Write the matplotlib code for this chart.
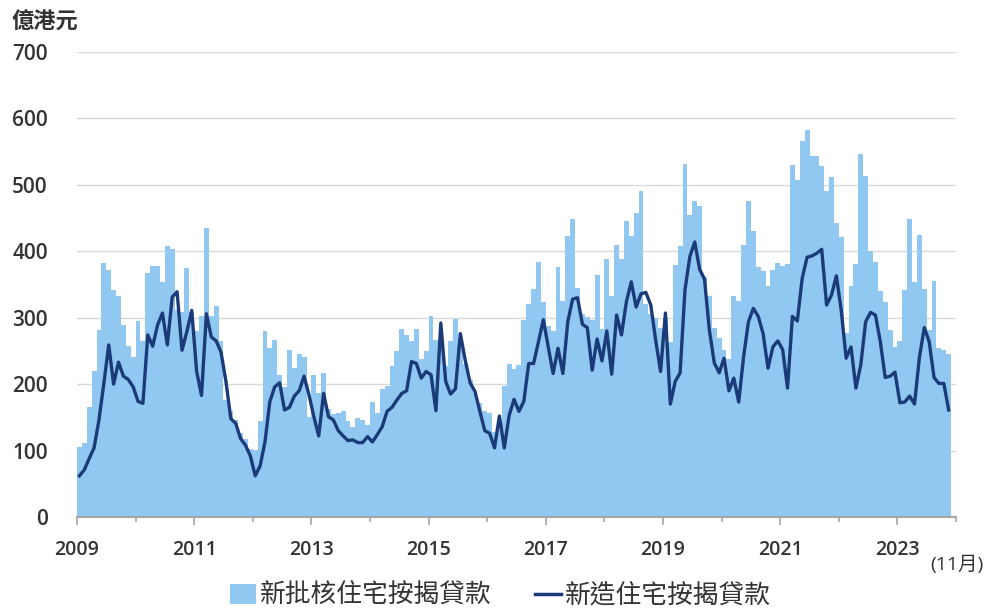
import matplotlib
matplotlib.use("Agg")
import matplotlib.pyplot as plt
from matplotlib.lines import Line2D
from matplotlib.patches import Patch
import numpy as np

COLORS = {
    "bar": "#90C8F2",
    "line": "#1B3A78",
    "text": "#333333",
    "axis": "#A6A6A6",
    "grid": "#D9D9D9",
}

plt.rcParams["font.family"] = ["Open Sans", "Noto Sans CJK TC", "DejaVu Sans"]

# monthly data, Jan 2009 - Nov 2023 (HK$ 100 million)
year_labels = ["2009", "2011", "2013", "2015", "2017", "2019", "2021", "2023"]
y_ticks = [0, 100, 200, 300, 400, 500, 600, 700]

approved_loans = [
    105, 112, 166, 219, 281, 383, 372, 342, 333, 289, 257, 241,
    295, 265, 368, 378, 378, 354, 408, 403, 312, 309, 375, 309,
    280, 303, 435, 302, 317, 265, 176, 159, 146, 126, 118, 103,
    101, 144, 280, 254, 266, 213, 195, 251, 225, 246, 241, 151,
    213, 186, 216, 163, 155, 157, 159, 145, 136, 149, 146, 138,
    173, 156, 192, 197, 227, 250, 283, 274, 265, 283, 238, 250,
    303, 267, 260, 227, 265, 298, 265, 231, 206, 186, 171, 160,
    157, 128, 146, 197, 230, 223, 229, 297, 321, 343, 384, 324,
    288, 280, 376, 325, 423, 449, 345, 306, 301, 296, 364, 283,
    389, 332, 409, 388, 446, 423, 457, 491, 321, 305, 300, 285,
    300, 264, 379, 408, 531, 454, 476, 468, 362, 333, 285, 270,
    251, 238, 333, 325, 409, 476, 430, 377, 370, 347, 372, 383,
    378, 381, 530, 507, 566, 583, 543, 543, 528, 490, 512, 442,
    422, 277, 347, 381, 546, 513, 400, 384, 340, 324, 282, 256,
    265, 342, 448, 353, 425, 343, 281, 355, 255, 251, 246,
]

drawn_loans = [
    62, 71, 88, 104, 146, 201, 259, 200, 233, 212, 207, 196,
    174, 171, 274, 257, 289, 307, 259, 331, 339, 251, 279, 311,
    219, 183, 306, 271, 265, 248, 204, 148, 141, 118, 108, 92,
    62, 77, 113, 174, 196, 202, 161, 165, 182, 190, 212, 184,
    151, 122, 186, 151, 146, 130, 122, 115, 116, 112, 112, 121,
    113, 124, 136, 159, 165, 176, 186, 190, 234, 231, 209, 219,
    214, 160, 292, 204, 185, 193, 276, 236, 202, 189, 159, 130,
    126, 104, 152, 104, 153, 177, 159, 174, 231, 231, 264, 297,
    256, 216, 254, 216, 294, 328, 330, 290, 285, 221, 268, 235,
    280, 215, 304, 274, 324, 354, 316, 336, 338, 319, 266, 219,
    307, 170, 204, 217, 342, 392, 414, 373, 358, 281, 232, 217,
    239, 190, 209, 173, 241, 294, 314, 302, 276, 224, 256, 265,
    252, 194, 302, 295, 359, 391, 393, 397, 403, 319, 334, 363,
    311, 239, 256, 194, 229, 294, 308, 304, 264, 210, 212, 218,
    172, 173, 182, 170, 240, 285, 264, 210, 201, 201, 161,
]

months = np.arange(len(approved_loans))

fig = plt.figure(figsize=(9.87, 6.10), dpi=100)
ax = fig.add_axes([0.078, 0.1525, 0.8906, 0.7623])

ax.bar(months, approved_loans, width=1.0, align="edge",
       color=COLORS["bar"], linewidth=0, zorder=2)
ax.plot(months + 0.5, drawn_loans, color=COLORS["line"],
        linewidth=2.4, zorder=3, solid_joinstyle="round")

ax.set_xlim(0, 180)
ax.set_ylim(0, 700)

ax.set_yticks(y_ticks)
ax.set_yticklabels([str(v) for v in y_ticks])
ax.grid(True, axis="y", color=COLORS["grid"], linewidth=1.0, zorder=1)
ax.tick_params(axis="y", length=0, pad=21, labelsize=15,
               labelcolor=COLORS["text"])

ax.set_xticks(np.arange(0, 180, 24))
ax.set_xticklabels(year_labels)
ax.set_xticks(np.arange(12, 181, 24), minor=True)
ax.tick_params(axis="x", which="major", length=5.5, width=1.2,
               color=COLORS["axis"], pad=11, labelsize=14,
               labelcolor=COLORS["text"])
ax.tick_params(axis="x", which="minor", length=3.5, width=1.2,
               color=COLORS["axis"])
for lbl in ax.get_xticklabels() + ax.get_yticklabels():
    lbl.set_fontweight("semibold")

for side in ["top", "right", "left"]:
    ax.spines[side].set_visible(False)
ax.spines["bottom"].set_color(COLORS["axis"])
ax.spines["bottom"].set_linewidth(1.5)
ax.spines["bottom"].set_zorder(4)

fig.text(0.012, 0.962, "億港元", fontsize=16, color=COLORS["text"],
         fontweight="semibold", ha="left", va="center")
fig.text(0.969, 0.074, "(11月)", fontsize=14, color=COLORS["text"],
         ha="center", va="center")

handles = [
    Patch(facecolor=COLORS["bar"], edgecolor="none",
          label="新批核住宅按揭貸款"),
    Line2D([0], [0], color=COLORS["line"], linewidth=2.5,
           label="新造住宅按揭貸款"),
]
fig.legend(handles=handles, loc="center", bbox_to_anchor=(0.507, 0.022),
           ncol=2, frameon=False, fontsize=18.5, handlelength=1.0,
           handleheight=0.8, handletextpad=0.15, columnspacing=1.7,
           labelcolor=COLORS["text"])

fig.savefig("out.png", dpi=100)
